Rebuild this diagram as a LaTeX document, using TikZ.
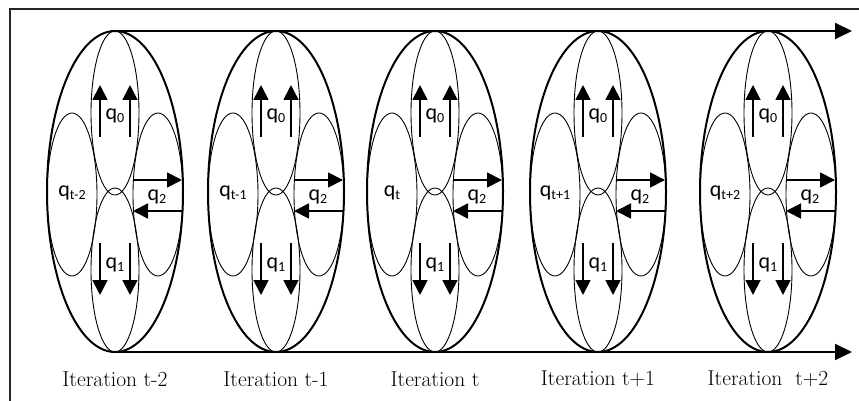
\documentclass[tikz,border=0pt]{standalone}
\usepackage{fontspec}
\newfontfamily\qfont{Carlito}
\usetikzlibrary{arrows.meta,shapes.geometric}
\newcommand{\qsub}[1]{q\raisebox{-3pt}{\fontsize{14}{14}\selectfont #1}}
\tikzset{
  big/.style={ellipse,draw,line width=2pt,minimum width=136pt,minimum height=321pt,inner sep=0pt,outer sep=0pt},
  flow/.style={line width=2pt,-{Triangle[length=17pt,width=16pt]}},
  qarr/.style={line width=1.8pt,-{Triangle[length=15pt,width=15pt]}},
  inner/.style={line width=0.9pt},
  qlab/.style={font=\qfont\fontsize{22}{22}\selectfont,inner sep=0pt},
  itlab/.style={font=\fontsize{21.5}{22}\selectfont,inner sep=0pt},
}
\begin{document}
\begin{tikzpicture}[x=1pt,y=-1pt]
\useasboundingbox (0,0) rectangle (859,401);
\draw[line width=1.2pt,black!85] (10,401) -- (10,9) -- (859,9);
\foreach \c/\s/\lab [count=\i] in {115/t-2/{Iteration t-2},276/t-1/{Iteration t-1},435/t/{Iteration t},598/t+1/{Iteration t+1},768/t+2/{Iteration\ \ t+2}} {
  \draw[inner] (\c,113) ellipse (24 and 82);
  \draw[inner] (\c,270) ellipse (24 and 82);
  \draw[inner] (\c-43,194.5) ellipse (25 and 81.5);
  \draw[inner] (\c+43,194.5) ellipse (25 and 81.5);
  \node[big] (e\i) at (\c,191.5) {};
  \coordinate (a\i) at (\c-15,137); \coordinate (b\i) at (\c-15,85);
  \coordinate (c\i) at (\c+15,137); \coordinate (d\i) at (\c+15,85);
  \draw[qarr] (a\i) -- (b\i);
  \draw[qarr] (c\i) -- (d\i);
  \coordinate (f\i) at (\c-15,243); \coordinate (g\i) at (\c-15,295);
  \coordinate (h\i) at (\c+15,243); \coordinate (k\i) at (\c+15,295);
  \draw[qarr] (f\i) -- (g\i);
  \draw[qarr] (h\i) -- (k\i);
  \coordinate (m\i) at (\c+18,180); \coordinate (n\i) at (\c+67,180);
  \coordinate (o\i) at (\c+67,211); \coordinate (p\i) at (\c+18,211);
  \draw[qarr] (m\i) -- (n\i);
  \draw[qarr] (o\i) -- (p\i);
  \node[qlab] (qa\i) at (\c,116) {\qsub{0}};
  \node[qlab] (qb\i) at (\c,265) {\qsub{1}};
  \node[qlab] (qc\i) at (\c+42,197) {\qsub{2}};
  \node[qlab] (qd\i) at (\c-43,193) {\qsub{\s}};
  \node[itlab] (it\i) at (\c,379) {\lab};
}
\coordinate (topend) at (852,31);
\coordinate (botend) at (852,352);
\draw[flow] (e1.north) -- (topend);
\draw[flow] (e1.south) -- (botend);
\end{tikzpicture}
\end{document}
